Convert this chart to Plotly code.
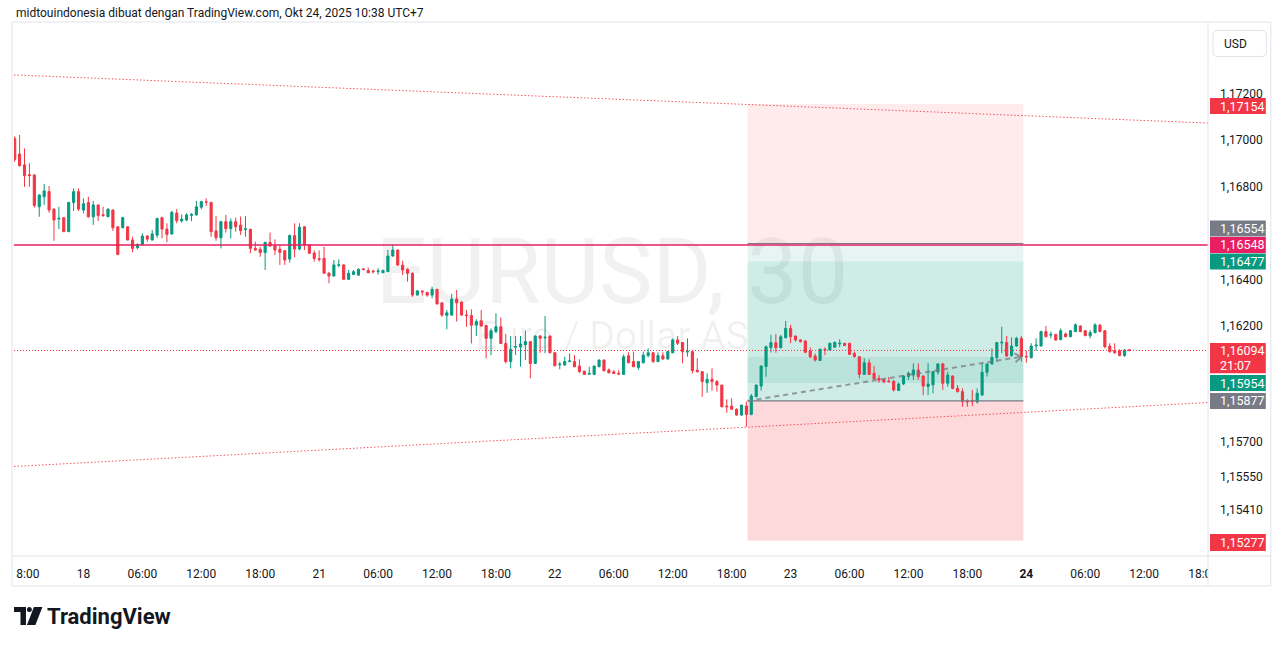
import math
import plotly.graph_objects as go

# ---------------- data (EURUSD, 30 min bars) ----------------
opens = [
    1.17006, 1.16939, 1.16892, 1.16850, 1.16849, 1.16712, 1.16755, 1.16777, 1.16702, 1.16659,
    1.16665, 1.16605, 1.16730, 1.16777, 1.16698, 1.16730, 1.16669, 1.16720, 1.16678, 1.16669,
    1.16698, 1.16626, 1.16622, 1.16626, 1.16569, 1.16536, 1.16550, 1.16586, 1.16569, 1.16590,
    1.16665, 1.16616, 1.16595, 1.16685, 1.16651, 1.16655, 1.16675, 1.16677, 1.16710, 1.16733,
    1.16731, 1.16608, 1.16579, 1.16648, 1.16618, 1.16648, 1.16633, 1.16614, 1.16615, 1.16533,
    1.16529, 1.16515, 1.16559, 1.16543, 1.16529, 1.16523, 1.16487, 1.16588, 1.16530, 1.16626,
    1.16548, 1.16513, 1.16489, 1.16490, 1.16426, 1.16414, 1.16460, 1.16462, 1.16400, 1.16421,
    1.16418, 1.16445, 1.16438, 1.16436, 1.16433, 1.16428, 1.16433, 1.16500, 1.16526, 1.16461,
    1.16443, 1.16426, 1.16332, 1.16349, 1.16343, 1.16332, 1.16357, 1.16299, 1.16245, 1.16246,
    1.16315, 1.16302, 1.16247, 1.16244, 1.16203, 1.16222, 1.16201, 1.16146, 1.16175, 1.16196,
    1.16124, 1.16046, 1.16108, 1.16109, 1.16118, 1.16132, 1.16038, 1.16156, 1.16148, 1.16156,
    1.16084, 1.16032, 1.16031, 1.16046, 1.16046, 1.16027, 1.16005, 1.15992, 1.15991, 1.16024,
    1.16053, 1.16010, 1.16002, 1.15996, 1.15991, 1.16071, 1.16046, 1.16021, 1.16041, 1.16072,
    1.16084, 1.16046, 1.16071, 1.16057, 1.16084, 1.16139, 1.16128, 1.16087, 1.16089, 1.16009,
    1.16003, 1.15955, 1.15970, 1.15960, 1.15945, 1.15855, 1.15855, 1.15841, 1.15816, 1.15855,
    1.15819, 1.15895, 1.15941, 1.16025, 1.16106, 1.16127, 1.16106, 1.16149, 1.16189, 1.16156,
    1.16139, 1.16135, 1.16092, 1.16070, 1.16051, 1.16099, 1.16096, 1.16108, 1.16122, 1.16125,
    1.16125, 1.16081, 1.16067, 1.15991, 1.16041, 1.15996, 1.15974, 1.15969, 1.15962, 1.15961,
    1.15922, 1.15950, 1.15982, 1.15988, 1.16010, 1.15984, 1.15939, 1.15946, 1.16001, 1.16036,
    1.15953, 1.15984, 1.15931, 1.15917, 1.15876, 1.15878, 1.15872, 1.15902, 1.16000, 1.16036,
    1.16064, 1.16126, 1.16128, 1.16072, 1.16113, 1.16146, 1.16069, 1.16063, 1.16114, 1.16113,
    1.16175, 1.16160, 1.16163, 1.16141, 1.16165, 1.16153, 1.16175, 1.16199, 1.16179, 1.16157,
    1.16170, 1.16203, 1.16179, 1.16113, 1.16093, 1.16093, 1.16072, 1.16097,
]
highs = [
    1.17015, 1.17021, 1.16963, 1.16899, 1.16850, 1.16764, 1.16810, 1.16801, 1.16705, 1.16712,
    1.16667, 1.16734, 1.16791, 1.16791, 1.16748, 1.16755, 1.16737, 1.16721, 1.16712, 1.16704,
    1.16700, 1.16627, 1.16669, 1.16628, 1.16583, 1.16555, 1.16598, 1.16590, 1.16612, 1.16664,
    1.16669, 1.16641, 1.16694, 1.16702, 1.16679, 1.16684, 1.16684, 1.16737, 1.16738, 1.16748,
    1.16733, 1.16672, 1.16651, 1.16677, 1.16662, 1.16665, 1.16670, 1.16672, 1.16617, 1.16562,
    1.16540, 1.16562, 1.16601, 1.16572, 1.16547, 1.16525, 1.16593, 1.16641, 1.16641, 1.16629,
    1.16549, 1.16524, 1.16524, 1.16540, 1.16432, 1.16483, 1.16486, 1.16464, 1.16440, 1.16440,
    1.16447, 1.16447, 1.16450, 1.16439, 1.16447, 1.16442, 1.16526, 1.16548, 1.16528, 1.16480,
    1.16447, 1.16429, 1.16354, 1.16354, 1.16347, 1.16368, 1.16358, 1.16301, 1.16268, 1.16337,
    1.16354, 1.16305, 1.16268, 1.16271, 1.16228, 1.16268, 1.16205, 1.16189, 1.16254, 1.16236,
    1.16165, 1.16156, 1.16156, 1.16156, 1.16179, 1.16134, 1.16158, 1.16160, 1.16242, 1.16158,
    1.16086, 1.16045, 1.16067, 1.16081, 1.16074, 1.16056, 1.16006, 1.16024, 1.16028, 1.16054,
    1.16054, 1.16017, 1.16009, 1.16009, 1.16077, 1.16086, 1.16089, 1.16047, 1.16089, 1.16103,
    1.16086, 1.16086, 1.16086, 1.16090, 1.16146, 1.16156, 1.16130, 1.16146, 1.16091, 1.16060,
    1.16003, 1.15996, 1.16017, 1.15967, 1.15946, 1.15884, 1.15888, 1.15845, 1.15861, 1.15874,
    1.15907, 1.15947, 1.16029, 1.16115, 1.16161, 1.16165, 1.16161, 1.16221, 1.16204, 1.16158,
    1.16142, 1.16137, 1.16107, 1.16081, 1.16103, 1.16107, 1.16127, 1.16132, 1.16142, 1.16126,
    1.16126, 1.16089, 1.16068, 1.16060, 1.16056, 1.16027, 1.15988, 1.15973, 1.15980, 1.15967,
    1.15956, 1.15988, 1.16003, 1.16039, 1.16039, 1.15986, 1.16039, 1.16006, 1.16039, 1.16041,
    1.16003, 1.15986, 1.15945, 1.15931, 1.15884, 1.15924, 1.15931, 1.16039, 1.16039, 1.16103,
    1.16129, 1.16196, 1.16156, 1.16150, 1.16153, 1.16156, 1.16093, 1.16125, 1.16146, 1.16179,
    1.16199, 1.16175, 1.16165, 1.16189, 1.16171, 1.16181, 1.16211, 1.16203, 1.16181, 1.16182,
    1.16211, 1.16208, 1.16181, 1.16125, 1.16125, 1.16099, 1.16099, 1.16099,
]
lows = [
    1.16905, 1.16885, 1.16798, 1.16798, 1.16708, 1.16669, 1.16720, 1.16687, 1.16566, 1.16616,
    1.16603, 1.16603, 1.16694, 1.16694, 1.16684, 1.16665, 1.16634, 1.16651, 1.16669, 1.16668,
    1.16608, 1.16504, 1.16619, 1.16567, 1.16516, 1.16529, 1.16547, 1.16562, 1.16567, 1.16579,
    1.16576, 1.16559, 1.16592, 1.16641, 1.16644, 1.16650, 1.16650, 1.16674, 1.16701, 1.16715,
    1.16583, 1.16566, 1.16533, 1.16601, 1.16576, 1.16605, 1.16591, 1.16583, 1.16512, 1.16523,
    1.16497, 1.16440, 1.16540, 1.16504, 1.16462, 1.16462, 1.16472, 1.16494, 1.16526, 1.16526,
    1.16510, 1.16476, 1.16476, 1.16424, 1.16383, 1.16412, 1.16451, 1.16397, 1.16397, 1.16419,
    1.16415, 1.16439, 1.16427, 1.16425, 1.16420, 1.16427, 1.16432, 1.16498, 1.16459, 1.16418,
    1.16390, 1.16325, 1.16331, 1.16330, 1.16325, 1.16318, 1.16292, 1.16239, 1.16185, 1.16244,
    1.16218, 1.16244, 1.16196, 1.16124, 1.16156, 1.16197, 1.16060, 1.16074, 1.16168, 1.16122,
    1.16038, 1.16017, 1.16074, 1.16024, 1.16053, 1.15974, 1.16036, 1.16084, 1.16082, 1.16082,
    1.16026, 1.16013, 1.16030, 1.16044, 1.16022, 1.15998, 1.15990, 1.15990, 1.15988, 1.16022,
    1.16003, 1.15996, 1.15993, 1.15988, 1.15989, 1.16040, 1.16022, 1.16010, 1.16038, 1.16064,
    1.16041, 1.16044, 1.16055, 1.16055, 1.16082, 1.16117, 1.16039, 1.16067, 1.15995, 1.15998,
    1.15895, 1.15912, 1.15921, 1.15917, 1.15849, 1.15826, 1.15838, 1.15814, 1.15812, 1.15766,
    1.15815, 1.15893, 1.15921, 1.15981, 1.16085, 1.16084, 1.16103, 1.16146, 1.16125, 1.16132,
    1.16128, 1.16082, 1.16060, 1.16046, 1.16049, 1.16074, 1.16094, 1.16106, 1.16108, 1.16114,
    1.16076, 1.16064, 1.15974, 1.15989, 1.15989, 1.15969, 1.15955, 1.15953, 1.15955, 1.15917,
    1.15920, 1.15945, 1.15967, 1.15967, 1.15967, 1.15902, 1.15902, 1.15910, 1.15990, 1.15924,
    1.15938, 1.15927, 1.15913, 1.15852, 1.15852, 1.15855, 1.15866, 1.15900, 1.15982, 1.16033,
    1.16046, 1.16082, 1.16067, 1.16067, 1.16110, 1.16046, 1.16041, 1.16060, 1.16093, 1.16111,
    1.16151, 1.16146, 1.16136, 1.16137, 1.16151, 1.16151, 1.16173, 1.16173, 1.16155, 1.16146,
    1.16168, 1.16173, 1.16103, 1.16084, 1.16081, 1.16069, 1.16067, 1.16090,
]
closes = [
    1.16916, 1.16889, 1.16846, 1.16846, 1.16717, 1.16763, 1.16780, 1.16698, 1.16655, 1.16662,
    1.16605, 1.16730, 1.16777, 1.16702, 1.16725, 1.16669, 1.16720, 1.16674, 1.16674, 1.16702,
    1.16622, 1.16507, 1.16665, 1.16569, 1.16533, 1.16550, 1.16586, 1.16573, 1.16595, 1.16662,
    1.16616, 1.16593, 1.16688, 1.16652, 1.16659, 1.16677, 1.16680, 1.16712, 1.16734, 1.16732,
    1.16605, 1.16579, 1.16648, 1.16618, 1.16648, 1.16626, 1.16609, 1.16617, 1.16533, 1.16526,
    1.16515, 1.16559, 1.16543, 1.16526, 1.16516, 1.16483, 1.16588, 1.16530, 1.16624, 1.16548,
    1.16512, 1.16490, 1.16486, 1.16426, 1.16414, 1.16462, 1.16462, 1.16400, 1.16426, 1.16433,
    1.16443, 1.16442, 1.16428, 1.16433, 1.16436, 1.16438, 1.16500, 1.16526, 1.16461, 1.16440,
    1.16426, 1.16332, 1.16350, 1.16346, 1.16332, 1.16357, 1.16294, 1.16246, 1.16256, 1.16315,
    1.16299, 1.16246, 1.16244, 1.16203, 1.16218, 1.16199, 1.16146, 1.16179, 1.16196, 1.16124,
    1.16046, 1.16099, 1.16111, 1.16122, 1.16132, 1.16038, 1.16156, 1.16146, 1.16151, 1.16084,
    1.16028, 1.16035, 1.16046, 1.16049, 1.16024, 1.16003, 1.15991, 1.15995, 1.16027, 1.16053,
    1.16007, 1.15998, 1.15995, 1.15993, 1.16067, 1.16041, 1.16024, 1.16046, 1.16074, 1.16084,
    1.16046, 1.16072, 1.16057, 1.16089, 1.16139, 1.16125, 1.16089, 1.16090, 1.16007, 1.16003,
    1.15960, 1.15970, 1.15960, 1.15945, 1.15852, 1.15852, 1.15841, 1.15816, 1.15859, 1.15819,
    1.15898, 1.15945, 1.16027, 1.16110, 1.16128, 1.16106, 1.16153, 1.16189, 1.16153, 1.16139,
    1.16132, 1.16086, 1.16067, 1.16053, 1.16099, 1.16096, 1.16125, 1.16129, 1.16125, 1.16115,
    1.16077, 1.16067, 1.15991, 1.16041, 1.15991, 1.15971, 1.15967, 1.15959, 1.15960, 1.15924,
    1.15950, 1.15984, 1.15996, 1.16010, 1.15981, 1.15941, 1.15950, 1.16003, 1.16036, 1.15953,
    1.15988, 1.15931, 1.15917, 1.15874, 1.15873, 1.15874, 1.15910, 1.16000, 1.16036, 1.16064,
    1.16128, 1.16129, 1.16070, 1.16113, 1.16146, 1.16067, 1.16066, 1.16113, 1.16117, 1.16175,
    1.16153, 1.16163, 1.16139, 1.16179, 1.16153, 1.16179, 1.16204, 1.16175, 1.16158, 1.16171,
    1.16204, 1.16175, 1.16110, 1.16089, 1.16084, 1.16072, 1.16096, 1.16094,
]
bar_index = list(range(len(closes)))

time_tick_index = [2, 14, 26, 38, 50, 62, 74, 86, 98, 110, 122, 134, 146, 158,
                   170, 182, 194, 206, 218, 230, 242]
time_tick_text = ["18:00", "18", "06:00", "12:00", "18:00", "21", "06:00", "12:00",
                  "18:00", "22", "06:00", "12:00", "18:00", "23", "06:00", "12:00",
                  "18:00", "<b>24</b>", "06:00", "12:00", "18:00"]

price_tick_values = [1.17200, 1.17000, 1.16800, 1.16400, 1.16200, 1.15700, 1.15550, 1.15410]
price_tick_text = ["1,17200", "1,17000", "1,16800", "1,16400", "1,16200", "1,15700",
                   "1,15550", "1,15410"]

horizontal_level = 1.16548
last_price = closes[-1]
countdown_text = "21:07"

short_entry, short_stop, short_target = 1.16554, 1.17154, 1.15954
long_entry, long_stop, long_target = 1.15877, 1.15277, 1.16477
tool_start, tool_end = 149.25, 205.4
tool_close_bar = 205

upper_trend = [(-0.14, 1.17279), (243.0, 1.17072)]
lower_trend = [(-0.14, 1.15595), (243.0, 1.15870)]

title_text = "midtouindonesia dibuat dengan TradingView.com, Okt 24, 2025 10:38 UTC+7"
watermark_main = "EURUSD, 30"
watermark_sub = "Euro / Dollar AS"

# ---------------- styling ----------------
W, H = 1281, 646
PL, PR, PT, PB = 10, 1208, 22, 556          # plot area in pixels
X_RANGE = [-0.14, 243.0]
Y_RANGE = [1.152099, 1.175067]
UP, DOWN = "#089981", "#F23645"
GRAY, PINK = "#787B86", "#E91E63"
TXT = "#131722"
BORDER = "#E0E3EB"
FONT = "Roboto, 'Liberation Sans', sans-serif"


def pxx(px):
    return (px - PL) / (PR - PL)


def pxy(py):
    return (PB - py) / (PB - PT)


def data_to_px(xv, yv):
    px = PL + (xv - X_RANGE[0]) / (X_RANGE[1] - X_RANGE[0]) * (PR - PL)
    py = PB - (yv - Y_RANGE[0]) / (Y_RANGE[1] - Y_RANGE[0]) * (PB - PT)
    return px, py


def px_to_data(px, py):
    xv = X_RANGE[0] + (px - PL) / (PR - PL) * (X_RANGE[1] - X_RANGE[0])
    yv = Y_RANGE[0] + (PB - py) / (PB - PT) * (Y_RANGE[1] - Y_RANGE[0])
    return xv, yv


fig = go.Figure()
fig.add_trace(go.Candlestick(
    x=bar_index, open=opens, high=highs, low=lows, close=closes,
    increasing=dict(line=dict(color=UP, width=1), fillcolor=UP),
    decreasing=dict(line=dict(color=DOWN, width=1), fillcolor=DOWN),
    whiskerwidth=0, hoverinfo="skip", showlegend=False,
))

shapes = []


def zone(y0, y1, color):
    shapes.append(dict(type="rect", xref="x", yref="y", x0=tool_start, x1=tool_end,
                       y0=y0, y1=y1, fillcolor=color, line=dict(width=0), layer="below"))


RED_A = "rgba(242,54,69,0.10)"
TEAL_A = "rgba(8,153,129,0.10)"
tool_close = closes[tool_close_bar]
zone(short_entry, short_stop, RED_A)
zone(short_target, short_entry, TEAL_A)
zone(long_entry, long_target, TEAL_A)
zone(long_entry, tool_close, TEAL_A)
zone(long_stop, long_entry, "rgba(242,54,69,0.19)")

# watermark (drawn under candles, above tool fills)
wm_x0, wm_y0 = px_to_data(330, 300)
wm_x1, wm_y1 = px_to_data(890, 230)
shapes.append(dict(type="rect", xref="x", yref="y", x0=wm_x0, x1=wm_x1, y0=wm_y0, y1=wm_y1,
                   line=dict(width=0), fillcolor="rgba(0,0,0,0)", layer="below",
                   label=dict(text=watermark_main, textposition="middle center",
                              font=dict(size=90, color="rgba(19,23,34,0.06)", family=FONT))))
ws_x0, ws_y0 = px_to_data(430, 352)
ws_x1, ws_y1 = px_to_data(790, 314)
shapes.append(dict(type="rect", xref="x", yref="y", x0=ws_x0, x1=ws_x1, y0=ws_y0, y1=ws_y1,
                   line=dict(width=0), fillcolor="rgba(0,0,0,0)", layer="below",
                   label=dict(text=watermark_sub, textposition="middle center",
                              font=dict(size=39, color="rgba(19,23,34,0.06)", family=FONT))))

# entry lines of the two position tools
for lvl in (short_entry, long_entry):
    shapes.append(dict(type="line", xref="x", yref="y", x0=tool_start, x1=tool_end,
                       y0=lvl, y1=lvl, line=dict(color=GRAY, width=1.2), layer="above"))

# horizontal level & current price line
shapes.append(dict(type="line", xref="paper", yref="y", x0=0, x1=1, y0=horizontal_level,
                   y1=horizontal_level, line=dict(color=PINK, width=1.5), layer="above"))
shapes.append(dict(type="line", xref="paper", yref="y", x0=0, x1=1, y0=last_price,
                   y1=last_price, line=dict(color=DOWN, width=1, dash="1px,2px"), layer="above"))

# trend lines
for (a, b) in (upper_trend, lower_trend):
    shapes.append(dict(type="line", xref="x", yref="y", x0=a[0], y0=a[1], x1=b[0], y1=b[1],
                       line=dict(color="rgba(242,54,69,0.85)", width=1, dash="1.5px,2px"),
                       layer="above"))

# dashed path of the long position with arrow head
sx, sy = tool_start, long_entry
ex, ey = tool_close_bar, tool_close
shapes.append(dict(type="line", xref="x", yref="y", x0=sx, y0=sy, x1=ex, y1=ey,
                   line=dict(color="rgba(120,123,134,0.75)", width=2, dash="5px,4px"),
                   layer="above"))
spx, spy = data_to_px(sx, sy)
epx, epy = data_to_px(ex, ey)
L = math.hypot(epx - spx, epy - spy)
ux, uy = (epx - spx) / L, (epy - spy) / L
pts = []
for ang in (0.6, -0.6):
    ca, sa = math.cos(ang), math.sin(ang)
    wx = epx - 8 * (ux * ca - uy * sa)
    wy = epy - 8 * (ux * sa + uy * ca)
    pts.append(px_to_data(wx, wy))
path = "M {},{} L {},{} L {},{}".format(pts[0][0], pts[0][1], ex, ey, pts[1][0], pts[1][1])
shapes.append(dict(type="path", xref="x", yref="y", path=path,
                   line=dict(color="rgba(120,123,134,0.75)", width=2), layer="above"))

# cover the clipped time labels at the edges
shapes.append(dict(type="rect", xref="paper", yref="paper", x0=pxx(0), x1=pxx(10.5),
                   y0=pxy(587), y1=pxy(557), fillcolor="white", line=dict(width=0), layer="above"))
shapes.append(dict(type="rect", xref="paper", yref="paper", x0=pxx(1208), x1=pxx(1281),
                   y0=pxy(587), y1=pxy(557), fillcolor="white", line=dict(width=0), layer="above"))

# price labels on the right scale
annotations = []
labels = [
    (short_stop, "1,17154", DOWN, -2, 8, 8),
    (short_entry, "1,16554", GRAY, 15, 8, 8),
    (horizontal_level, "1,16548", PINK, 0, 8, 8),
    (long_target, "1,16477", UP, 0, 8, 8),
    (short_target, "1,15954", UP, 0, 8, 8),
    (long_entry, "1,15877", GRAY, 0, 8, 8),
    (long_stop, "1,15277", DOWN, -2, 8.5, 8.5),
]
for price, text, col, shift, up, dn in labels:
    shapes.append(dict(type="rect", xref="paper", yref="y", ysizemode="pixel", yanchor=price,
                       x0=pxx(1210), x1=pxx(1266), y0=shift - dn, y1=shift + up,
                       fillcolor=col, line=dict(width=0), layer="above"))
    annotations.append(dict(xref="paper", yref="y", x=pxx(1218.5), y=price, yshift=shift,
                            xanchor="left", yanchor="middle", showarrow=False, text=text,
                            font=dict(size=12.5, color="white", family=FONT)))
# last price label with countdown
shapes.append(dict(type="rect", xref="paper", yref="y", ysizemode="pixel", yanchor=last_price,
                   x0=pxx(1210), x1=pxx(1266), y0=-22.8, y1=7.5,
                   fillcolor=DOWN, line=dict(width=0), layer="above"))
annotations.append(dict(xref="paper", yref="y", x=pxx(1218.5), y=last_price, xanchor="left",
                        yanchor="middle", showarrow=False, text="1,16094",
                        font=dict(size=12.5, color="white", family=FONT)))
annotations.append(dict(xref="paper", yref="y", x=pxx(1218.5), y=last_price, yshift=-15,
                        xanchor="left", yanchor="middle", showarrow=False, text=countdown_text,
                        font=dict(size=12.5, color="white", family=FONT)))

# USD box
r = 5
bx0, bx1, by0, by1 = 1213, 1266.5, 30.5, 56.5
usd_path = ("M {a},{t} L {b},{t} Q {c},{t} {c},{t2} L {c},{b2} Q {c},{bt} {b},{bt} "
            "L {a},{bt} Q {d},{bt} {d},{b2} L {d},{t2} Q {d},{t} {a},{t} Z").format(
    a=pxx(bx0 + r), b=pxx(bx1 - r), c=pxx(bx1), d=pxx(bx0),
    t=pxy(by0), t2=pxy(by0 + r), b2=pxy(by1 - r), bt=pxy(by1))
shapes.append(dict(type="path", xref="paper", yref="paper", path=usd_path,
                   fillcolor="white", line=dict(color=BORDER, width=1), layer="above"))
annotations.append(dict(xref="paper", yref="paper", x=pxx(1222), y=pxy(43.5), xanchor="left",
                        yanchor="middle", showarrow=False, text="USD",
                        font=dict(size=12, color=TXT, family=FONT)))

# frame lines
for (x0, y0, x1, y1) in [(8, 22, 1271, 22), (8, 586, 1271, 586), (8, 22, 8, 586),
                         (1271, 22, 1271, 586), (1208, 22, 1208, 586), (8, 556, 1271, 556)]:
    shapes.append(dict(type="line", xref="paper", yref="paper", x0=pxx(x0), y0=pxy(y0),
                       x1=pxx(x1), y1=pxy(y1), line=dict(color=BORDER, width=1), layer="above"))

# title and brand
annotations.append(dict(xref="paper", yref="paper", x=pxx(10), y=pxy(13), xanchor="left",
                        yanchor="middle", showarrow=False, text=title_text,
                        font=dict(size=12, color=TXT, family=FONT)))
annotations.append(dict(xref="paper", yref="paper", x=pxx(41), y=pxy(616), xanchor="left",
                        yanchor="middle", showarrow=False, text="<b>TradingView</b>",
                        font=dict(size=22, color=TXT, family=FONT)))
# logo
shapes.append(dict(type="rect", xref="paper", yref="paper", x0=pxx(10), x1=pxx(22),
                   y0=pxy(612), y1=pxy(607), fillcolor=TXT, line=dict(width=0), layer="above"))
shapes.append(dict(type="rect", xref="paper", yref="paper", x0=pxx(16.5), x1=pxx(22),
                   y0=pxy(625), y1=pxy(607), fillcolor=TXT, line=dict(width=0), layer="above"))
shapes.append(dict(type="circle", xref="paper", yref="paper", x0=pxx(23), x1=pxx(28),
                   y0=pxy(612), y1=pxy(607), fillcolor=TXT, line=dict(width=0), layer="above"))
logo_path = "M {},{} L {},{} L {},{} L {},{} Z".format(
    pxx(30), pxy(607), pxx(38.5), pxy(607), pxx(31.5), pxy(625), pxx(23), pxy(625))
shapes.append(dict(type="path", xref="paper", yref="paper", path=logo_path,
                   fillcolor=TXT, line=dict(width=0), layer="above"))

fig.update_layout(
    width=W, height=H, autosize=False,
    margin=dict(l=PL, r=W - PR, t=PT, b=H - PB, pad=0),
    paper_bgcolor="white", plot_bgcolor="white",
    boxgap=0.38,
    font=dict(family=FONT, size=12, color=TXT),
    shapes=shapes, annotations=annotations, showlegend=False,
    xaxis=dict(range=X_RANGE, tickmode="array", tickvals=time_tick_index,
               ticktext=time_tick_text, showgrid=False, zeroline=False, showline=False,
               ticks="", ticklabelstandoff=9, rangeslider=dict(visible=False),
               tickfont=dict(size=12, color=TXT, family=FONT), fixedrange=True),
    yaxis=dict(range=Y_RANGE, side="right", tickmode="array", tickvals=price_tick_values,
               ticktext=price_tick_text, showgrid=False, zeroline=False, showline=False,
               ticks="", ticklabelstandoff=11,
               tickfont=dict(size=12, color=TXT, family=FONT), fixedrange=True),
)

fig.write_html("out.html", config={"displayModeBar": False},
               post_script="document.body.style.margin='0px';")
